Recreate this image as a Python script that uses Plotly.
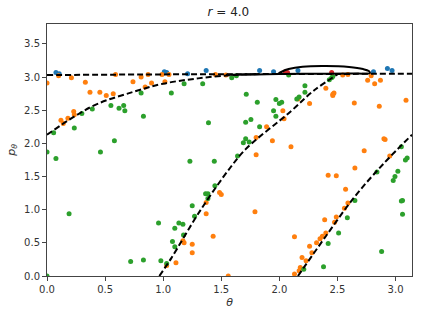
import plotly.graph_objects as go

# ---- data ----
blue_x = [0.077, 0.105, 1.01, 1.03, 1.21, 1.37, 1.83, 1.95, 2.16, 2.81, 2.93, 2.97]
blue_y = [3.07, 3.05, 3.08, 3.07, 3.05, 3.10, 3.10, 3.08, 3.10, 3.08, 3.13, 3.10]

red_x = [2.05, 2.07, 2.45]
red_y = [3.08, 3.07, 3.07]

orange_pts = [
    (0.0, 2.91), (0.10, 3.02), (0.21, 2.99), (0.33, 2.92), (0.37, 2.77), (0.455, 2.77),
    (0.51, 2.72), (0.57, 2.75), (0.59, 3.04), (0.74, 2.93), (0.81, 3.0), (0.845, 2.85),
    (0.87, 3.04), (0.90, 2.91), (0.99, 3.04), (1.015, 2.93), (1.05, 3.04), (1.45, 3.04),
    (1.54, 3.03),
    (0.12, 2.35), (0.14, 2.30), (0.18, 2.38), (0.23, 2.48), (0.235, 2.43),
    (2.545, 3.03), (2.59, 3.04), (2.79, 3.02), (2.76, 2.95), (2.82, 2.90), (2.87, 2.95),
    (2.40, 2.83), (2.46, 2.74), (2.47, 2.76), (2.46, 2.72), (2.645, 2.61), (2.86, 2.56),
    (3.09, 2.65), (2.26, 2.60), (2.16, 2.67), (2.03, 2.49), (2.04, 2.37), (1.89, 2.25),
    (1.94, 2.04), (2.10, 1.95), (2.90, 2.07), (2.91, 2.06), (1.80, 2.09),
    (1.485, 1.26), (1.50, 1.23), (1.37, 1.11), (1.37, 0.94), (1.43, 0.60), (1.25, 0.48),
    (1.25, 0.35), (1.17, 0.53), (1.18, 0.50), (1.80, 1.83), (2.73, 1.89), (2.95, 1.81),
    (2.65, 1.63), (2.42, 1.52), (2.49, 1.51), (2.57, 1.31), (1.79, 0.97), (2.59, 1.10),
    (2.56, 1.02), (2.49, 0.89), (2.39, 0.85), (2.475, 0.81), (2.40, 0.65), (2.37, 0.60),
    (2.35, 0.56), (2.32, 0.50), (2.26, 0.45), (2.13, 0.59), (2.195, 0.28), (2.23, 0.23),
    (2.18, 0.13), (2.17, 0.08), (2.13, 0.03), (2.28, 0.35),
    (1.03, 0.16), (1.11, 0.20), (1.56, 0.0),
]
orange_x = [p[0] for p in orange_pts]
orange_y = [p[1] for p in orange_pts]

green_pts = [
    (0.0, 0.0), (0.0, 1.87), (0.077, 1.77), (0.057, 2.16), (0.235, 2.23), (0.19, 0.94),
    (0.30, 2.45), (0.39, 2.52), (0.46, 1.87), (0.55, 2.57), (0.58, 2.04), (0.62, 2.53),
    (0.66, 2.57), (0.67, 2.49), (0.83, 2.41), (0.81, 2.76), (1.07, 2.76), (1.18, 2.90),
    (1.34, 2.90), (1.39, 2.31), (1.59, 2.99), (1.63, 3.02), (2.08, 3.03), (1.715, 2.74),
    (1.81, 2.62), (1.97, 2.66), (2.0, 2.60), (2.02, 2.62), (2.22, 2.87), (2.22, 2.77),
    (2.15, 2.67), (2.17, 2.70), (2.43, 2.96), (2.45, 2.99), (2.46, 3.01), (1.71, 2.32),
    (1.755, 2.36), (1.95, 2.49), (1.97, 2.41), (1.83, 2.25), (1.71, 2.07), (1.69, 2.01),
    (1.74, 2.02), (3.05, 1.95), (1.23, 1.73), (1.44, 1.73), (1.445, 1.36), (1.365, 1.24),
    (1.385, 1.24), (1.385, 1.17), (1.25, 1.06), (1.27, 0.90), (0.96, 0.80), (1.135, 0.80),
    (1.17, 0.78), (1.10, 0.72), (1.175, 0.62), (1.08, 0.52), (1.10, 0.44), (1.64, 1.81),
    (3.10, 1.78), (3.085, 1.75), (3.02, 1.58), (2.995, 1.50), (2.98, 1.44), (2.84, 1.57),
    (3.06, 1.14), (3.05, 1.13), (3.06, 0.93), (2.65, 1.14), (2.585, 0.88), (2.51, 0.65),
    (2.42, 0.49), (2.88, 0.37), (0.72, 0.22), (0.83, 0.24), (0.98, 0.23), (1.03, 0.19),
    (2.21, 0.10), (2.38, 0.14),
]
green_x = [p[0] for p in green_pts]
green_y = [p[1] for p in green_pts]

# dashed separatrix-like curves
top_x = [0.0, 1.0, 2.0, 3.1416]
top_y = [3.03, 3.04, 3.045, 3.05]

wrapR_x = [2.16, 2.4, 2.65, 2.9, 3.1416]
wrapR_y = [0.0, 0.6, 1.2, 1.7, 2.13]

wrapL_x = [0.0, 0.24, 0.44, 0.75, 1.0, 1.3, 1.6, 1.8]
wrapL_y = [2.13, 2.41, 2.60, 2.78, 2.90, 2.98, 3.03, 3.045]

diag_x = [0.967, 1.07, 1.32, 1.58, 1.72, 2.09, 2.3, 2.5]
diag_y = [0.0, 0.27, 0.99, 1.64, 1.93, 2.47, 2.80, 3.04]

# solid loop
loop_x = [1.54, 1.8, 2.0, 2.3, 2.6, 2.78, 2.77, 2.72, 2.6, 2.4, 2.2, 2.08, 2.02, 1.99]
loop_y = [3.035, 3.04, 3.045, 3.05, 3.055, 3.06, 3.09, 3.12, 3.15, 3.165, 3.155, 3.12, 3.08, 3.05]

x_ticks = [0.0, 0.5, 1.0, 1.5, 2.0, 2.5, 3.0]
y_ticks = [0.0, 0.5, 1.0, 1.5, 2.0, 2.5, 3.0, 3.5]

fig = go.Figure()
ms = 5
for xs, ys, c in [(blue_x, blue_y, "#1f77b4"), (orange_x, orange_y, "#ff7f0e"),
                  (green_x, green_y, "#2ca02c"), (red_x, red_y, "#d62728")]:
    fig.add_trace(go.Scatter(x=xs, y=ys, mode="markers",
                             marker=dict(color=c, size=ms, line=dict(width=0)),
                             showlegend=False, cliponaxis=True))

dash_style = dict(color="black", width=2, dash="6px,3px")
for xs, ys in [(top_x, top_y), (wrapR_x, wrapR_y), (wrapL_x, wrapL_y), (diag_x, diag_y)]:
    fig.add_trace(go.Scatter(x=xs, y=ys, mode="lines", line=dict(**dash_style, shape="spline"),
                             showlegend=False))
fig.add_trace(go.Scatter(x=loop_x, y=loop_y, mode="lines",
                         line=dict(color="black", width=2, shape="spline"),
                         showlegend=False))

axis_common = dict(showgrid=False, zeroline=False, showline=True, linecolor="#444",
                   linewidth=1, mirror=True, ticks="outside", ticklen=4, tickcolor="#444",
                   tickfont=dict(family="DejaVu Sans", size=10, color="#333"))

fig.update_layout(
    width=423, height=317,
    margin=dict(l=45, r=10, t=24, b=39),
    paper_bgcolor="white", plot_bgcolor="white",
    title=dict(text="<i>r</i> = 4.0", x=0.54, xanchor="center", y=0.962, yanchor="middle",
               font=dict(family="DejaVu Sans", size=12, color="#222")),
    xaxis=dict(range=[0, 3.1416], tickvals=x_ticks, ticktext=[f"{v:.1f}" for v in x_ticks],
               title=dict(text="<i>θ</i>", font=dict(family="DejaVu Sans", size=11, color="#333"),
                          standoff=4), **axis_common),
    yaxis=dict(range=[0, 3.8], tickvals=y_ticks, ticktext=[f"{v:.1f}" for v in y_ticks],
               title=dict(text="<i>p</i><sub><i>θ</i></sub>",
                          font=dict(family="DejaVu Sans", size=11, color="#333"), standoff=6),
               **axis_common),
)

fig.write_html("out.html")
